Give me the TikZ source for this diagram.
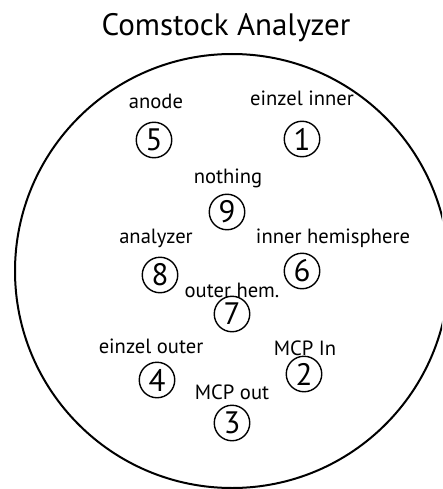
\documentclass[tikz,border=0pt]{standalone}
\usepackage{fontspec}
\setmainfont{PT Sans}
\begin{document}
\begin{tikzpicture}[x=1pt,y=-1pt,
  lbl/.style={anchor=base,inner sep=0pt,font=\fontsize{20.6}{24}\selectfont},
  pin/.style={circle,draw,line width=1.4pt,minimum size=35.5pt,inner sep=0pt,font=\fontsize{31}{33}\selectfont},
  ttl/.style={anchor=base,inner sep=0pt,font=\fontsize{31}{36}\selectfont}]
\useasboundingbox (0,0) rectangle (442,489);
\clip (0,0) rectangle (442,489);
\draw[line width=2pt] (232,271) circle[radius=217];
\node[ttl] (title) at (226,36) {Comstock Analyzer};
\node[lbl] (l5) at (156,109) {anode};
\node[pin] (p5) at (154,140) {5};
\node[lbl] (l1) at (302,106) {einzel inner};
\node[pin] (p1) at (302,139) {1};
\node[lbl] (l9) at (228,183) {nothing};
\node[pin] (p9) at (227,212) {9};
\node[lbl] (l8) at (156,243) {analyzer};
\node[pin] (p8) at (160,275) {8};
\node[lbl] (l6) at (333,243) {inner hemisphere};
\node[pin] (p6) at (302,271) {6};
\node[lbl] (l7) at (232,297) {outer hem.};
\node[pin] (p7) at (232,314) {7};
\node[lbl] (l4) at (151,353) {einzel outer};
\node[pin] (p4) at (157,380) {4};
\node[lbl] (l2) at (305,355) {MCP In};
\node[pin] (p2) at (304,374) {2};
\node[lbl] (l3) at (232,399) {MCP out};
\node[pin] (p3) at (232,423) {3};
\end{tikzpicture}
\end{document}
